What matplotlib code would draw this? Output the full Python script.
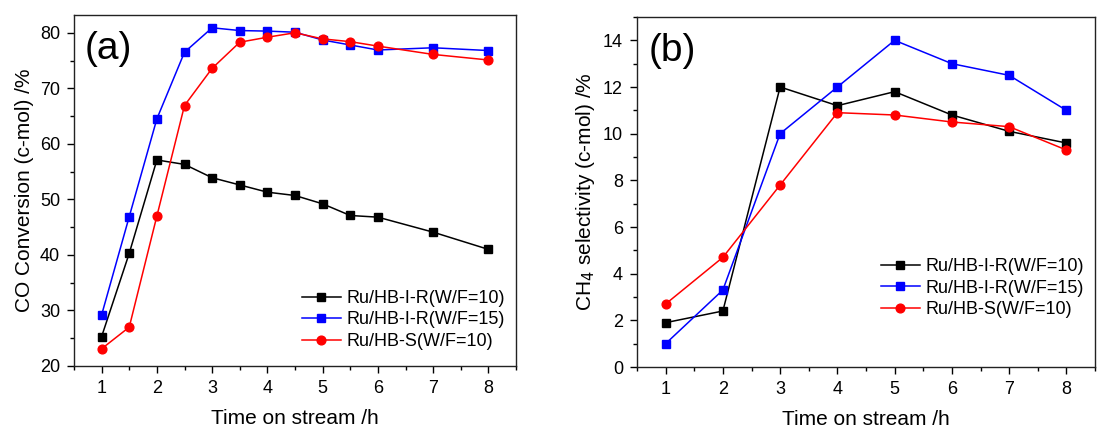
import matplotlib
matplotlib.use("Agg")
import matplotlib.pyplot as plt
from matplotlib.ticker import MultipleLocator

plt.rcParams['font.family'] = ['Liberation Sans', 'DejaVu Sans']

## data ##
time_a = [1, 1.5, 2, 2.5, 3, 3.5, 4, 4.5, 5, 5.5, 6, 7, 8]
conv_ir10 = [25.3, 40.3, 57.1, 56.3, 53.9, 52.6, 51.3, 50.7, 49.2, 47.1, 46.8, 44.1, 41.0]
conv_ir15 = [29.2, 46.9, 64.5, 76.5, 80.9, 80.4, 80.3, 80.1, 78.7, 77.8, 76.9, 77.3, 76.8]
conv_s10 = [23.1, 27.0, 47.0, 66.9, 73.6, 78.3, 79.2, 80.0, 78.9, 78.4, 77.6, 76.1, 75.1]

time_b = [1, 2, 3, 4, 5, 6, 7, 8]
ch4_ir10 = [1.9, 2.4, 12.0, 11.2, 11.8, 10.8, 10.1, 9.6]
ch4_ir15 = [1.0, 3.3, 10.0, 12.0, 14.0, 13.0, 12.5, 11.0]
ch4_s10 = [2.7, 4.7, 7.8, 10.9, 10.8, 10.5, 10.3, 9.3]

labels = ['Ru/HB-I-R(W/F=10)', 'Ru/HB-I-R(W/F=15)', 'Ru/HB-S(W/F=10)']
colors = ['black', 'blue', 'red']
markers = ['s', 's', 'o']

fig = plt.figure(figsize=(11.01, 4.29), dpi=100)
ax1 = fig.add_axes([74/1101, 1-366/429, 442/1101, 351/429])
ax2 = fig.add_axes([637/1101, 1-367/429, 458/1101, 350/429])


def style(ax):
    for s in ax.spines.values():
        s.set_linewidth(1.0)
        s.set_color('#222222')
    ax.tick_params(which='both', direction='out', labelsize=13, width=1.0)
    ax.tick_params(which='major', length=5, pad=5)
    ax.tick_params(which='minor', length=3)
    ax.set_xlim(0.5, 8.5)
    ax.xaxis.set_major_locator(MultipleLocator(1))
    ax.xaxis.set_minor_locator(MultipleLocator(0.5))
    ax.set_xlabel('Time on stream /h', fontsize=15, labelpad=9)


def draw(ax, x, series):
    for y, c, m, l in zip(series, colors, markers, labels):
        ax.plot(x, y, color=c, marker=m, markersize=6.3 if m == 'o' else 5.8, lw=1.1, label=l)


draw(ax1, time_a, [conv_ir10, conv_ir15, conv_s10])
style(ax1)
ax1.set_ylim(20, 83.2)
ax1.yaxis.set_major_locator(MultipleLocator(10))
ax1.yaxis.set_minor_locator(MultipleLocator(5))
ax1.set_ylabel('CO Conversion (c-mol) /%', fontsize=15)
ax1.text(0.025, 0.955, '(a)', transform=ax1.transAxes, fontsize=28, va='top')
ax1.legend(loc='lower right', bbox_to_anchor=(1.0, 0.015), frameon=False, fontsize=13,
           handlelength=2.2, handletextpad=0.3, labelspacing=0.25, borderaxespad=0.2)

draw(ax2, time_b, [ch4_ir10, ch4_ir15, ch4_s10])
style(ax2)
ax2.set_ylim(0, 15)
ax2.yaxis.set_major_locator(MultipleLocator(2))
ax2.yaxis.set_minor_locator(MultipleLocator(1))
ax2.set_ylabel('CH$_4$ selectivity (c-mol) /%', fontsize=15)
ax2.text(0.025, 0.955, '(b)', transform=ax2.transAxes, fontsize=28, va='top')
ax2.legend(loc='center right', bbox_to_anchor=(1.0, 0.225), frameon=False, fontsize=13,
           handlelength=2.2, handletextpad=0.3, labelspacing=0.25, borderaxespad=0.2)

fig.savefig('out.png', dpi=100)
